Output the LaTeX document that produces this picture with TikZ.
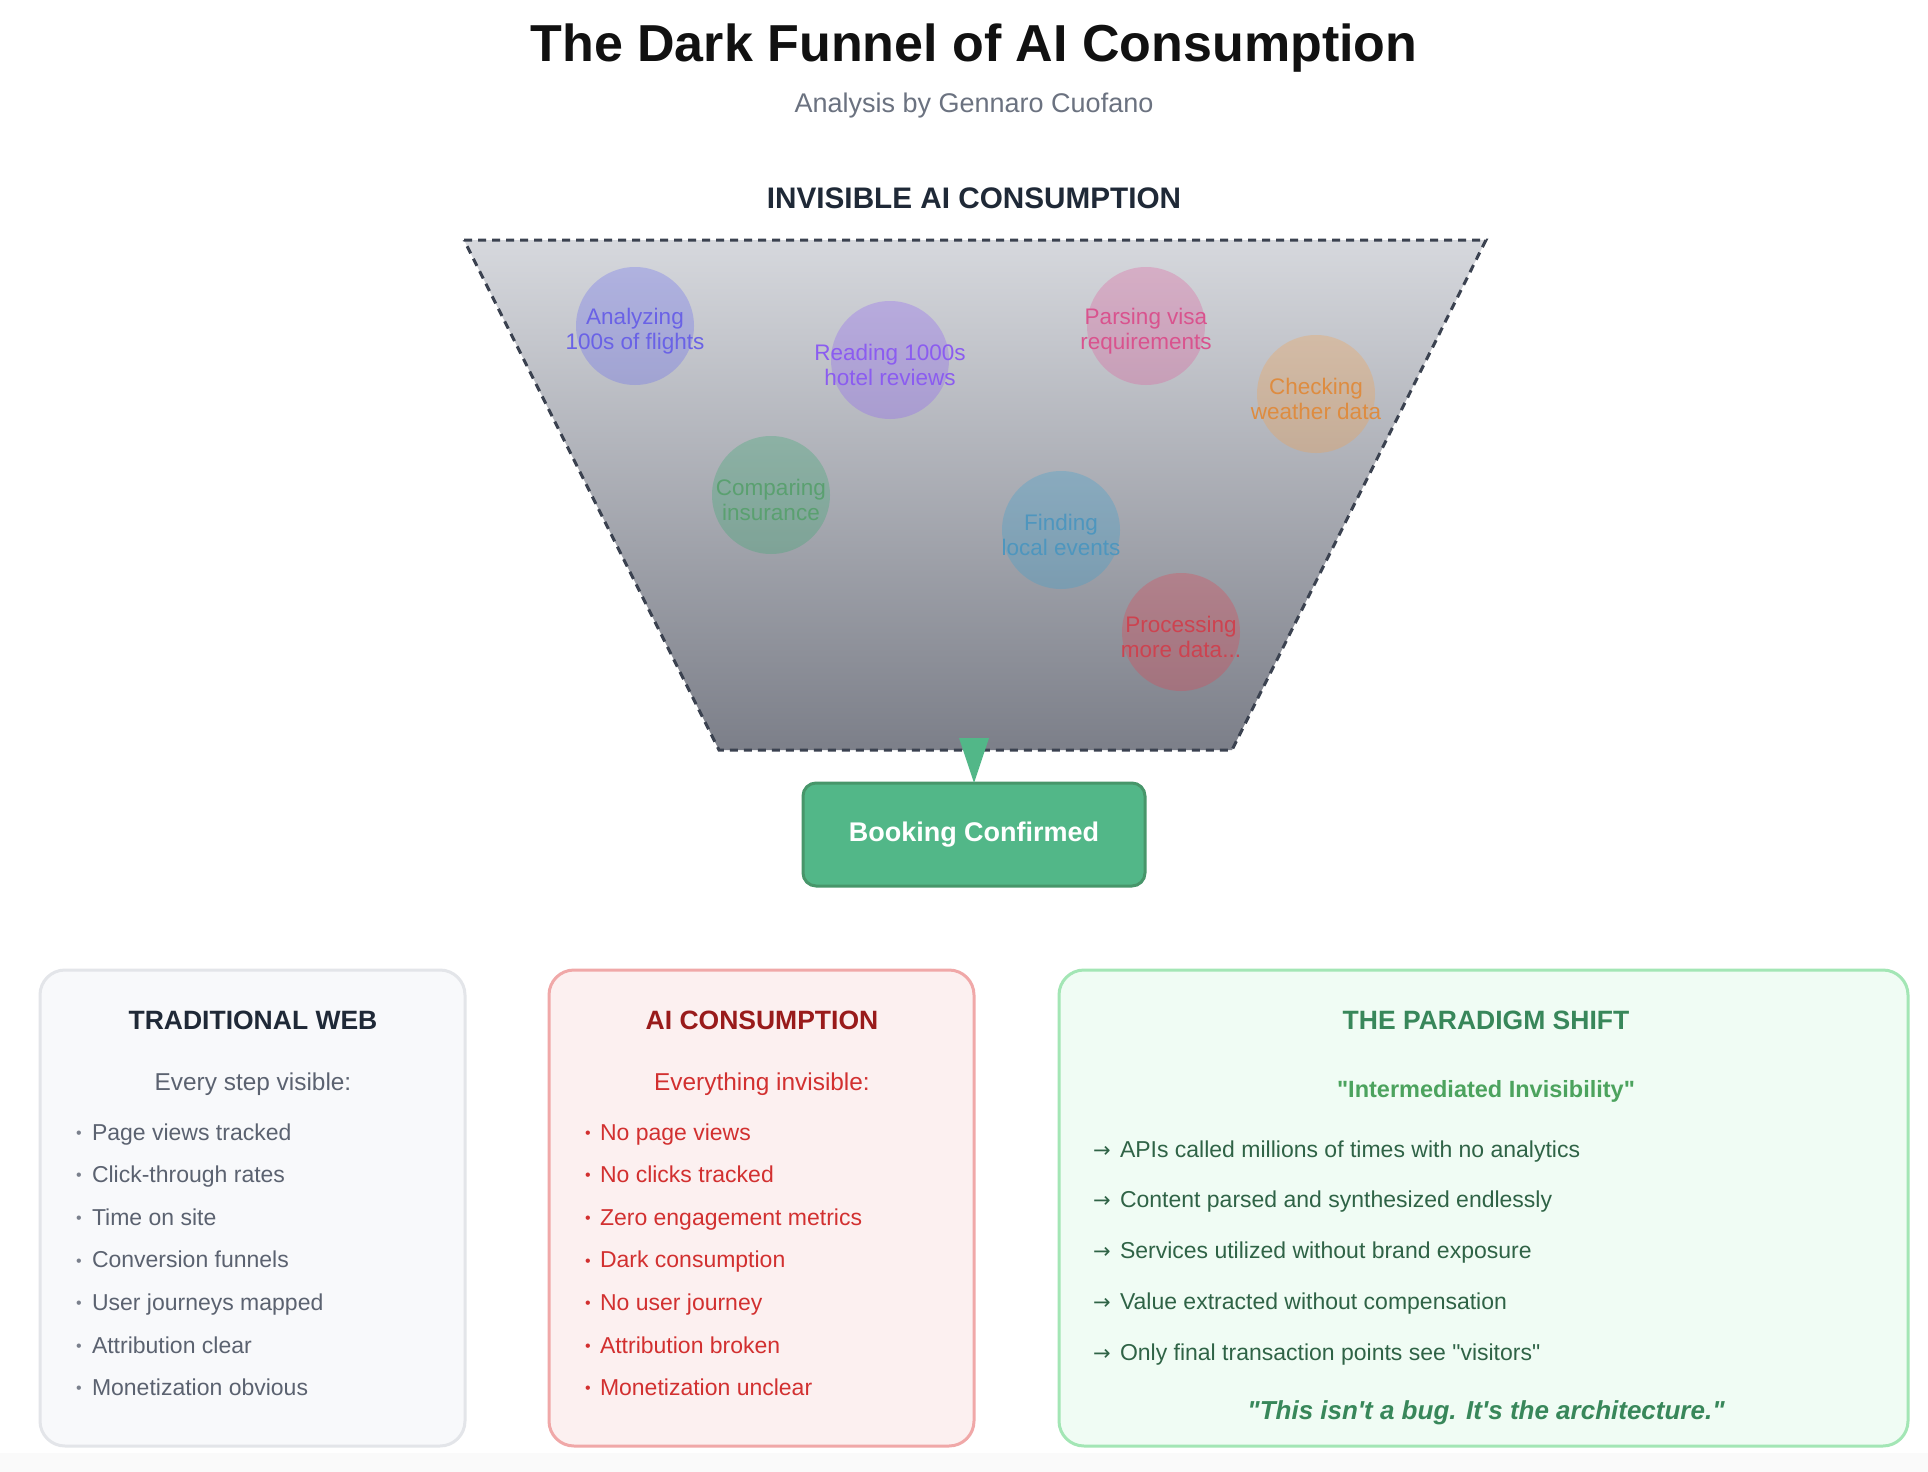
\documentclass[tikz,border=0pt]{standalone}
\usepackage{fontspec}
\setmainfont{Liberation Sans}[Ligatures=TeXOff]
\newfontfamily\arrowfont{DejaVu Sans}
\usetikzlibrary{calc}
\definecolor{titleblack}{HTML}{111111}
\definecolor{subgray}{HTML}{6B7280}
\definecolor{slate}{HTML}{1F2937}
\definecolor{funtop}{RGB}{214,216,221}
\definecolor{funbot}{RGB}{124,127,137}
\definecolor{funline}{HTML}{3B4250}
\definecolor{bookfill}{HTML}{52B788}
\definecolor{bookline}{HTML}{47966A}
\definecolor{cIndigo}{HTML}{6366F1}
\definecolor{tIndigo}{HTML}{6A62E6}
\definecolor{cViolet}{HTML}{8B5CF6}
\definecolor{tViolet}{HTML}{8B5CF0}
\definecolor{cPink}{HTML}{E0589A}
\definecolor{tPink}{HTML}{D9538E}
\definecolor{cOrange}{HTML}{F5A04A}
\definecolor{tOrange}{HTML}{DE8C40}
\definecolor{cGreen}{HTML}{34A86E}
\definecolor{tGreen}{HTML}{5AA070}
\definecolor{cSky}{HTML}{38A0D0}
\definecolor{tSky}{HTML}{4E96BE}
\definecolor{cRed}{HTML}{E5404F}
\definecolor{tRed}{HTML}{CD4350}
\definecolor{grayfill}{HTML}{F8F9FB}
\definecolor{grayline}{HTML}{E3E5E9}
\definecolor{graytext}{HTML}{5B6270}
\definecolor{graydot}{HTML}{7A808C}
\definecolor{redfill}{HTML}{FCF0F0}
\definecolor{redline}{HTML}{F0A8A8}
\definecolor{redtitle}{HTML}{991B1B}
\definecolor{redtext}{HTML}{D23030}
\definecolor{greenfill}{HTML}{F0FCF4}
\definecolor{greenline}{HTML}{A3E6B5}
\definecolor{greentitle}{HTML}{38875A}
\definecolor{greensub}{HTML}{4CA35E}
\definecolor{greentext}{HTML}{2F6346}
\definecolor{pagebot}{HTML}{FAFAFA}
\newcommand{\smalldot}{\raisebox{1.8pt}{\fontsize{16}{16}\selectfont •}}
\begin{document}
\begin{tikzpicture}[x=1pt,y=-1pt,
  every node/.style={inner sep=0pt, outer sep=0pt},
  bubble/.style={circle, minimum size=118pt, fill opacity=0.3, draw=none},
  btext/.style={align=center, font=\fontsize{22.5}{25}\selectfont},
  panel/.style={rounded corners=25pt, line width=3pt, minimum height=476pt},
  ptitle/.style={anchor=base, font=\fontsize{26.5}{30}\selectfont\bfseries},
  psub/.style={anchor=base, font=\fontsize{24.4}{28}\selectfont},
  item/.style={anchor=base west, font=\fontsize{23}{26}\selectfont},
]
% canvas
\fill[white] (0,0) rectangle (1928,1472);
\fill[pagebot] (0,1453) rectangle (1928,1472);
\useasboundingbox (0,0) rectangle (1928,1472);

% header
\node[anchor=base, font=\fontsize{52}{60}\selectfont\bfseries, text=titleblack] (title) at (974,62) {The Dark Funnel of AI Consumption};
\node[anchor=base, font=\fontsize{27}{32}\selectfont, text=subgray] (subtitle) at (974,112) {Analysis by Gennaro Cuofano};
\node[anchor=base, font=\fontsize{29.7}{34}\selectfont\bfseries, text=slate] (flabel) at (974,208) {INVISIBLE AI CONSUMPTION};

% funnel
\coordinate (ftl) at (464,240);
\coordinate (ftr) at (1486,240);
\coordinate (fbr) at (1232,750);
\coordinate (fbl) at (719,750);
\shade[top color=funtop, bottom color=funbot] (ftl) -- (ftr) -- (fbr) -- (fbl) -- cycle;
\draw[funline, line width=3pt, dash pattern=on 8pt off 6pt] (ftl) -- (ftr) -- (fbr) -- (fbl) -- cycle;

% bubbles
\node[bubble, fill=cIndigo] (c1) at (635,326) {};
\node[btext, text=tIndigo] (t1) at ($(c1)+(0,5)$) {Analyzing\\100s of flights};
\node[bubble, fill=cViolet] (c2) at (890,360) {};
\node[btext, text=tViolet] (t2) at ($(c2)+(0,5)$) {Reading 1000s\\hotel reviews};
\node[bubble, fill=cPink] (c3) at (1146,326) {};
\node[btext, text=tPink] (t3) at ($(c3)+(0,5)$) {Parsing visa\\requirements};
\node[bubble, fill=cOrange] (c4) at (1316,394) {};
\node[btext, text=tOrange] (t4) at ($(c4)+(0,5)$) {Checking\\weather data};
\node[bubble, fill=cGreen] (c5) at (771,495) {};
\node[btext, text=tGreen] (t5) at ($(c5)+(0,5)$) {Comparing\\insurance};
\node[bubble, fill=cSky] (c6) at (1061,530) {};
\node[btext, text=tSky] (t6) at ($(c6)+(0,5)$) {Finding\\local events};
\node[bubble, fill=cRed] (c7) at (1181,632) {};
\node[btext, text=tRed] (t7) at ($(c7)+(0,5)$) {Processing\\more data...};

% booking
\node[draw=bookline, fill=bookfill, line width=3pt, rounded corners=13pt, minimum width=342pt, minimum height=103pt,
      text=white, font=\fontsize{27}{32}\selectfont\bfseries] (book) at (974,834.5) {Booking Confirmed};
\coordinate (tri) at (974,738);
\fill[bookfill] ($(tri)+(-15,0)$) -- (book.north) -- ($(tri)+(15,0)$) -- cycle;

% panel 1
\node[panel, draw=grayline, fill=grayfill, minimum width=425pt] (box1) at (252.5,1208) {};
\node[ptitle, text=slate] (b1t) at (253,1029) {TRADITIONAL WEB};
\node[psub, text=graytext] (b1s) at (253,1090) {Every step visible:};
\foreach \txt [count=\i] in {Page views tracked,Click-through rates,Time on site,Conversion funnels,User journeys mapped,Attribution clear,Monetization obvious}{
  \node[item, text=graytext] (b1i\i) at (76,{1140+42.6*(\i-1)}) {\makebox[16pt][l]{\textcolor{graydot}{\smalldot}}\txt};
}

% panel 2
\node[panel, draw=redline, fill=redfill, minimum width=425pt] (box2) at (761.5,1208) {};
\node[ptitle, text=redtitle] (b2t) at (762,1029) {AI CONSUMPTION};
\node[psub, text=redtext] (b2s) at (762,1090) {Everything invisible:};
\foreach \txt [count=\i] in {No page views,No clicks tracked,Zero engagement metrics,Dark consumption,No user journey,Attribution broken,Monetization unclear}{
  \node[item, text=redtext] (b2i\i) at (585,{1140+42.6*(\i-1)}) {\makebox[15pt][l]{\smalldot}\txt};
}

% panel 3
\node[panel, draw=greenline, fill=greenfill, minimum width=849pt] (box3) at (1483.5,1208) {};
\node[ptitle, text=greentitle] (b3t) at (1486,1029) {THE PARADIGM SHIFT};
\node[anchor=base, font=\fontsize{23.5}{28}\selectfont\bfseries, text=greensub] (b3s) at (1486,1097) {"Intermediated Invisibility"};
\foreach \txt [count=\i] in {APIs called millions of times with no analytics,Content parsed and synthesized endlessly,Services utilized without brand exposure,Value extracted without compensation,Only final transaction points see "visitors"}{
  \node[item, text=greentext] (b3i\i) at (1093,{1157+50.8*(\i-1)}) {\makebox[27pt][l]{\arrowfont\fontsize{21}{26}\selectfont →}\txt};
}
\node[anchor=base, font=\fontsize{26}{30}\selectfont\bfseries\itshape, text=greentitle] (b3q) at (1486,1419) {"This isn't a bug. It's the architecture."};
\end{tikzpicture}
\end{document}
